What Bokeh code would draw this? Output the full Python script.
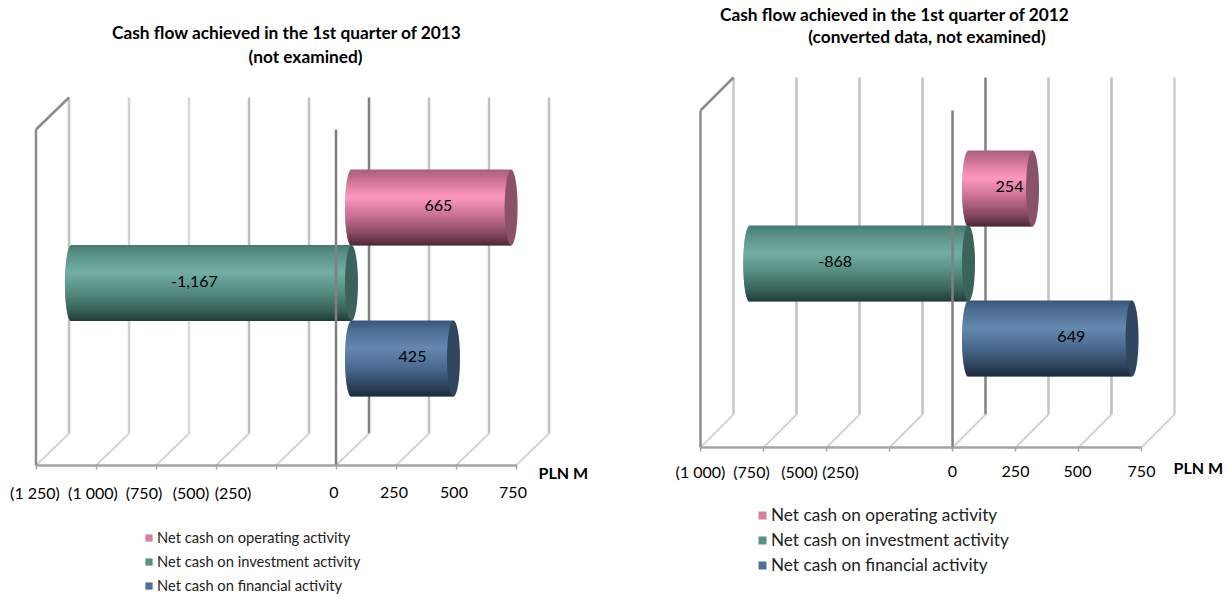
from bokeh.embed import file_html
from bokeh.layouts import row
from bokeh.models import Label, Legend, LegendItem, FixedTicker, LinearAxis, Range1d
from bokeh.plotting import figure
from bokeh.resources import INLINE
from bokeh.core.properties import value
import math

# Reported cash flows, PLN M
activities = ["Net cash on operating activity",
              "Net cash on investment activity",
              "Net cash on financial activity"]
values_2013 = [665, -1167, 425]
values_2012 = [254, -868, 649]
ticks_2013 = [-1250, -1000, -750, -500, -250, 0, 250, 500, 750]
ticks_2012 = [-1000, -750, -500, -250, 0, 250, 500, 750]
tick_text_2013 = ["(1 250)", "(1 000)", "(750)", "(500)", "(250)", "0", "250", "500", "750"]
tick_text_2012 = ["(1 000)", "(750)", "(500)", "(250)", "0", "250", "500", "750"]

FONT = "Lato"
# Shading stops per series, top to bottom of a cylinder, with the colour of its end cap
SHADES = [
    ([(0, "#a65f7e"), (.12, "#c9708f"), (.36, "#ff98bf"), (.62, "#c56f90"), (.85, "#84475f"), (1, "#4d2838")], "#8a5269"),
    ([(0, "#477a70"), (.12, "#5a9087"), (.36, "#72aea4"), (.62, "#558b81"), (.85, "#38625a"), (1, "#203c37")], "#3c625c"),
    ([(0, "#37567a"), (.12, "#4c6c92"), (.36, "#6588ae"), (.62, "#4b6a90"), (.85, "#30455f"), (1, "#1d2b3d")], "#30465f"),
]
LEGEND_COLORS = ["#d77fa1", "#5b9087", "#4f6f97"]


def blend(stops, f):
    for (f0, c0), (f1, c1) in zip(stops, stops[1:]):
        if f <= f1:
            k = (f - f0) / (f1 - f0)
            rgb = [round(int(c0[i:i+2], 16) * (1 - k) + int(c1[i:i+2], 16) * k) for i in (1, 3, 5)]
            return "#%02x%02x%02x" % tuple(rgb)
    return stops[-1][1]


def panel(values, ticks, tick_text, cfg):
    scale, zero_px, floor, top, band_top = cfg["scale"], cfg["zero"], cfg["floor"], cfg["top"], cfg["band_top"]
    width = 615
    p = figure(width=width, height=597, output_backend="svg", toolbar_location=None,
               x_range=Range1d(-zero_px / scale, (width - zero_px) / scale),
               y_range=Range1d(597, 0), x_axis_type=None, y_axis_type=None,
               min_border=0)
    p.outline_line_color = None
    p.grid.visible = False
    p.background_fill_color = None

    dx, dy = 33 / scale, cfg["depth_y"]
    back_top, back_bottom = top - dy, floor - dy

    # Back wall and floor of the 3D box
    for t in ticks:
        color = "#808080" if t == 0 else cfg["wall"].get(t, "#c2c2c2")
        p.segment(t + dx, back_top, t + dx, back_bottom, line_color=color, line_width=2.5)
        p.segment(t, floor, t + dx, back_bottom, line_color="#d4d4d4", line_width=2)
    p.segment(ticks[0], top, ticks[0] + dx, back_top, line_color="#8c8c8c", line_width=2.5)
    p.segment(ticks[0], top, ticks[0], floor, line_color="#8c8c8c", line_width=2.5)

    # Cylinders, shaded with thin horizontal strips
    base = cfg["base"] / scale
    cap = 6.5 / scale
    band = 76
    for i, v in enumerate(values):
        stops, cap_color = SHADES[i]
        y0 = band_top + i * cfg["step"]
        lo, hi = (base, base + v) if v >= 0 else (base + v, base)
        n = band
        left, right, ytop, ybot, cols = [], [], [], [], []
        for s in range(n):
            f = (s + .5) / n
            bulge = cap * math.sqrt(max(0, 1 - (2 * f - 1) ** 2))
            left.append(lo - bulge)
            right.append(hi)
            ytop.append(y0 + s)
            ybot.append(y0 + s + 1.8 if s < n - 1 else y0 + s + 1)
            cols.append(blend(stops, f))
        p.quad(left=left, right=right, top=ytop, bottom=ybot, fill_color=cols, line_color=None)
        p.ellipse(x=[hi], y=[y0 + band / 2], width=[2 * cap], height=[band], fill_color=cap_color, line_color=None)
        p.text(x=[base + v / 2], y=[y0 + band / 2 - 2], text=[f"{v:,}"], x_offset=[cfg["nudge"][i]],
               text_align="center", text_baseline="middle", text_color="#000000",
               text_font=value(FONT), text_font_size="16px")

    # Zero wall at the front of the box
    p.segment(0, top, 0, floor, line_color="#808080", line_width=2.5)

    axis = LinearAxis(ticker=FixedTicker(ticks=ticks), fixed_location=floor,
                      bounds=(ticks[0], ticks[-1]),
                      major_label_overrides={t: "" for t in ticks},
                      axis_line_color="#a3a3a3", axis_line_width=2.5,
                      major_tick_line_color="#a3a3a3", major_tick_line_width=1.5,
                      major_tick_in=0, major_tick_out=4, minor_tick_line_color=None)
    p.add_layout(axis, "below")

    # Tick labels, squeezed on the negative side
    for t, txt, off in zip(ticks, tick_text, cfg["tick_nudge"]):
        p.add_layout(Label(x=t, y=cfg["tick_y"], text=txt, x_offset=off, text_align="center",
                           text_baseline="middle", text_font=FONT, text_font_size="16px",
                           text_color="#000000"))
    unit_x, unit_y = cfg["unit"]
    p.add_layout(Label(x=(unit_x - zero_px) / scale, y=unit_y, text="PLN M", text_align="left", text_baseline="middle",
                       text_font=FONT, text_font_size="16px", text_font_style="bold", text_color="#000000"))
    for txt, cx, cy in cfg["title"]:
        p.add_layout(Label(x=(cx - zero_px) / scale, y=cy, text=txt, text_align="center", text_baseline="middle",
                           text_font=FONT, text_font_size="17.3px", text_font_style="bold",
                           text_color="#000000"))

    # Legend under the plot
    items = []
    nan = float("nan")
    for name, col in zip(activities, LEGEND_COLORS):
        r = p.quad(left=[nan], right=[nan], top=[nan], bottom=[nan], fill_color=col, line_color=None)
        items.append(LegendItem(label=name, renderers=[r]))
    legend = Legend(items=items, location=cfg["legend_at"], orientation="vertical",
                    background_fill_alpha=0, border_line_color=None, padding=0, margin=0,
                    spacing=cfg["legend_gap"], glyph_width=cfg["glyph"], glyph_height=cfg["glyph"],
                    label_standoff=4, label_height=20,
                    label_text_font=FONT, label_text_font_size=cfg["legend_size"], label_text_color="#222222")
    p.add_layout(legend, "center")
    return p


left = panel(values_2013, ticks_2013, tick_text_2013, dict(
    scale=.24, zero=335.5, floor=465, top=129, depth_y=32, band_top=169, step=75.5, base=15.5,
    nudge=[7, -17, 10], tick_y=492,
    tick_nudge=[-1, -3, -12, -25, -43, -2, -2, -2, -3],
    unit=(538, 472),
    title=[("Cash flow achieved in the 1st quarter of 2013", 286.5, 32), ("(not examined)", 305, 56)],
    wall={-1000: "#d2d2d2", -750: "#dadada", -500: "#bdbdbd"},
    legend_at=(144, 2), legend_gap=4, glyph=9, legend_size="14.7px"))

right = panel(values_2012, ticks_2012, tick_text_2012, dict(
    scale=.252, zero=337, floor=447, top=110, depth_y=33, band_top=150, step=75, base=16,
    nudge=[9, -24, 21], tick_y=471,
    tick_nudge=[0, -12, -27, -49, 0, 0, -1, 0],
    unit=(558, 467),
    title=[("Cash flow achieved in the 1st quarter of 2012", 279.5, 14), ("(converted data, not examined)", 311.5, 36)],
    wall={-1000: "#c8c8c8", 500: "#bdbdbd", 750: "#cfcfcf"},
    legend_at=(142, 22), legend_gap=4, glyph=10, legend_size="17.2px"))

open("out.html", "w").write(file_html(row(left, right, spacing=0), INLINE))
